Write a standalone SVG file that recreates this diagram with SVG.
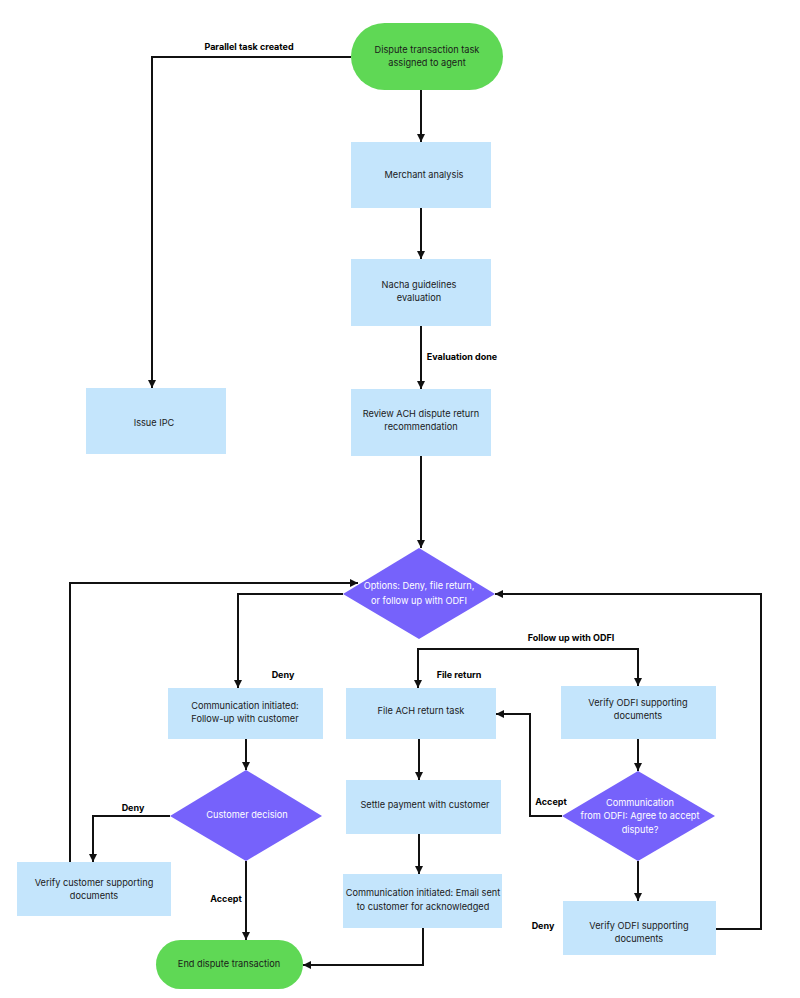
<svg xmlns="http://www.w3.org/2000/svg" width="800" height="998" viewBox="0 0 800 998">
<style>
.box{fill:#c4e5fc}
.term{fill:#5fd855}
.dec{fill:#7662fb}
.t{font-family:Inter,"Liberation Sans",sans-serif;font-size:9.2px;fill:#1a1a1a;text-anchor:middle}
.w{fill:#ffffff}
.lbl{font-family:Inter,"Liberation Sans",sans-serif;font-size:9px;font-weight:700;fill:#000;text-anchor:middle}
.c{fill:none;stroke:#111;stroke-width:2}
</style>
<defs>
<marker id="ah" viewBox="0 0 10 10" refX="10" refY="5" markerWidth="4" markerHeight="4" markerUnits="strokeWidth" orient="auto">
<path d="M0,0 L10,5 L0,10 z" fill="#111"/>
</marker>
</defs>
<rect width="800" height="998" fill="#ffffff"/>
<g id="connectors">
<path class="c" marker-end="url(#ah)" d="M351,57 H152 V388"/>
<path class="c" marker-end="url(#ah)" d="M421,90 V142"/>
<path class="c" marker-end="url(#ah)" d="M421,208 V259"/>
<path class="c" marker-end="url(#ah)" d="M421,326 V389"/>
<path class="c" marker-end="url(#ah)" d="M421,456 V548"/>
<path class="c" marker-end="url(#ah)" d="M343,594 H238 V688"/>
<path class="c" marker-end="url(#ah)" d="M638,649 H418 V688"/>
<path class="c" marker-end="url(#ah)" d="M418,649 H638 V686"/>
<path class="c" marker-end="url(#ah)" d="M246,739 V770"/>
<path class="c" marker-end="url(#ah)" d="M170,816 H93 V862"/>
<path class="c" marker-end="url(#ah)" d="M246,861 V940"/>
<path class="c" marker-end="url(#ah)" d="M70,862 V583 H358"/>
<path class="c" marker-end="url(#ah)" d="M419,739 V780"/>
<path class="c" marker-end="url(#ah)" d="M419,834 V874"/>
<path class="c" marker-end="url(#ah)" d="M423,928 V965 H303"/>
<path class="c" marker-end="url(#ah)" d="M638,739 V771"/>
<path class="c" marker-end="url(#ah)" d="M562,816 H530 V714 H496"/>
<path class="c" marker-end="url(#ah)" d="M638,861 V901"/>
<path class="c" marker-end="url(#ah)" d="M716,929 H761 V594 H495"/>
<text class="lbl" x="249" y="50">Parallel task created</text>
<text class="lbl" x="462" y="360">Evaluation done</text>
<text class="lbl" x="571" y="641">Follow up with ODFI</text>
<text class="lbl" x="283" y="678">Deny</text>
<text class="lbl" x="459" y="678">File return</text>
<text class="lbl" x="133" y="811">Deny</text>
<text class="lbl" x="551" y="805">Accept</text>
<text class="lbl" x="226" y="902">Accept</text>
<text class="lbl" x="543" y="929">Deny</text>
</g>
<g id="start">
<rect class="term" x="351" y="23" width="152" height="67" rx="33.5"/>
<text class="t" x="427" y="53">Dispute transaction task</text>
<text class="t" x="427" y="66">assigned to agent</text>
</g>
<g id="merchant">
<rect class="box" x="351" y="142" width="140" height="66"/>
<text class="t" x="424" y="178">Merchant analysis</text>
</g>
<g id="nacha">
<rect class="box" x="351" y="259" width="140" height="67"/>
<text class="t" x="419" y="288">Nacha guidelines</text>
<text class="t" x="419" y="301">evaluation</text>
</g>
<g id="review">
<rect class="box" x="351" y="389" width="140" height="67"/>
<text class="t" x="421" y="417">Review ACH dispute return</text>
<text class="t" x="421" y="430">recommendation</text>
</g>
<g id="issue">
<rect class="box" x="86" y="388" width="140" height="66"/>
<text class="t" x="154" y="426">Issue IPC</text>
</g>
<g id="options">
<polygon class="dec" points="419,548 495,594 419,639 343,594"/>
<text class="t w" x="419" y="589">Options: Deny, file return,</text>
<text class="t w" x="419" y="604">or follow up with ODFI</text>
</g>
<g id="comm-customer">
<rect class="box" x="168" y="688" width="155" height="51"/>
<text class="t" x="245" y="709">Communication initiated:</text>
<text class="t" x="245" y="722">Follow-up with customer</text>
</g>
<g id="file-ach">
<rect class="box" x="346" y="688" width="150" height="51"/>
<text class="t" x="421" y="714">File ACH return task</text>
</g>
<g id="verify-odfi-1">
<rect class="box" x="561" y="686" width="155" height="53"/>
<text class="t" x="638" y="706">Verify ODFI supporting</text>
<text class="t" x="638" y="719">documents</text>
</g>
<g id="customer-decision">
<polygon class="dec" points="246,770 322,816 246,861 170,816"/>
<text class="t w" x="247" y="818">Customer decision</text>
</g>
<g id="settle">
<rect class="box" x="346" y="780" width="155" height="54"/>
<text class="t" x="425" y="808">Settle payment with customer</text>
</g>
<g id="odfi-decision">
<polygon class="dec" points="638,771 715,816 638,861 562,816"/>
<text class="t w" x="640" y="806">Communication</text>
<text class="t w" x="640" y="819">from ODFI: Agree to accept</text>
<text class="t w" x="640" y="833">dispute?</text>
</g>
<g id="verify-customer">
<rect class="box" x="17" y="862" width="154" height="54"/>
<text class="t" x="94" y="886">Verify customer supporting</text>
<text class="t" x="94" y="899">documents</text>
</g>
<g id="email">
<rect class="box" x="343" y="874" width="159" height="54"/>
<text class="t" x="423" y="896">Communication initiated: Email sent</text>
<text class="t" x="423" y="910">to customer for acknowledged</text>
</g>
<g id="verify-odfi-2">
<rect class="box" x="563" y="901" width="153" height="54"/>
<text class="t" x="639" y="929">Verify ODFI supporting</text>
<text class="t" x="639" y="942">documents</text>
</g>
<g id="end">
<rect class="term" x="156" y="940" width="147" height="49" rx="24.5"/>
<text class="t" x="229" y="967">End dispute transaction</text>
</g>
</svg>
